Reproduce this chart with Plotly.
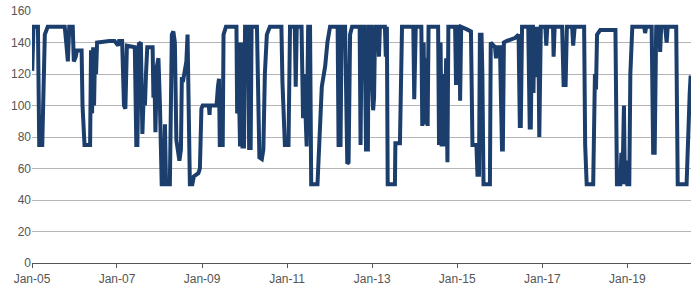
import plotly.graph_objects as go

dates = [
"2005-01-03","2005-01-14","2005-02-21","2005-03-04","2005-03-30","2005-04-08","2005-04-21","2005-05-16",
"2005-10-09","2005-10-22","2005-11-05","2005-11-17","2005-12-17","2005-12-26","2006-01-12","2006-01-21",
"2006-03-03","2006-03-11","2006-03-28","2006-05-15","2006-05-23","2006-06-01","2006-06-10","2006-06-18",
"2006-06-27","2006-07-05","2006-07-14","2006-10-29","2006-12-11",
"2007-01-11","2007-01-19","2007-02-14","2007-03-02","2007-03-14","2007-03-27","2007-06-03","2007-06-16",
"2007-06-25","2007-07-08","2007-07-25","2007-08-07","2007-08-20","2007-08-29","2007-09-07","2007-09-18",
"2007-11-03","2007-11-10","2007-11-19","2007-11-27","2007-12-10","2007-12-23","2008-01-05","2008-01-14",
"2008-01-20","2008-02-09","2008-02-17","2008-02-26","2008-03-30","2008-04-08","2008-04-16","2008-04-29",
"2008-05-12","2008-05-25","2008-06-07","2008-06-20","2008-07-03","2008-07-11","2008-07-20","2008-08-06",
"2008-08-19","2008-08-29","2008-09-10","2008-09-18","2008-10-09","2008-10-22","2008-11-30","2008-12-13",
"2008-12-26",
"2009-01-06","2009-02-28","2009-03-06","2009-03-10","2009-05-05","2009-05-17","2009-05-26","2009-06-02",
"2009-06-27","2009-07-04","2009-07-25","2009-10-23","2009-10-29","2009-11-05","2009-11-14","2009-11-23",
"2009-12-01","2009-12-14","2009-12-27","2010-01-05","2010-01-31","2010-02-09","2010-02-22","2010-03-02",
"2010-04-17","2010-04-25","2010-05-08","2010-05-29","2010-06-11","2010-06-24","2010-07-11","2010-08-06",
"2010-11-13","2010-11-22","2010-11-29","2010-12-13","2011-01-13","2011-01-26","2011-03-08","2011-03-16",
"2011-03-25",
"2011-05-05","2011-05-18","2011-05-27","2011-06-18","2011-07-01","2011-07-17","2011-07-27","2011-09-19",
"2011-09-29","2011-10-12","2011-10-26","2011-11-24","2011-12-13","2012-01-05","2012-03-10","2012-03-18",
"2012-04-04","2012-04-13","2012-05-13","2012-06-01","2012-06-12","2012-06-25","2012-07-12","2012-09-15",
"2012-09-23","2012-10-02","2012-10-27","2012-11-09","2012-11-25","2012-12-01","2012-12-22","2012-12-31",
"2013-01-09","2013-01-17","2013-01-26","2013-02-20","2013-02-28","2013-03-08","2013-04-20","2013-04-28",
"2013-05-07","2013-05-14","2013-07-15","2013-07-19","2013-08-27",
"2013-09-14","2013-12-20","2013-12-28","2014-01-10","2014-02-27","2014-03-07","2014-03-19","2014-03-27",
"2014-04-09","2014-04-22","2014-04-30","2014-07-21","2014-07-29","2014-08-11","2014-08-20","2014-09-02",
"2014-09-15","2014-09-28","2014-10-09","2014-10-17","2014-12-14","2014-12-22","2014-12-31","2015-01-22",
"2015-01-26","2015-02-04","2015-04-03","2015-04-29","2015-05-12","2015-06-15","2015-06-24","2015-07-07",
"2015-07-15","2015-07-29","2015-08-05","2015-08-15","2015-10-09","2015-10-16","2015-11-22","2015-11-30",
"2015-12-09","2016-01-03",
"2016-01-21","2016-01-28","2016-02-06","2016-03-03","2016-05-14","2016-06-11","2016-06-22","2016-06-30",
"2016-07-11","2016-09-02","2016-09-15","2016-09-24","2016-10-05","2016-10-13","2016-10-17","2016-10-24",
"2016-11-01","2016-11-10","2016-11-16","2016-11-20",
"2016-11-27","2016-12-06","2016-12-19","2017-01-27","2017-02-04","2017-02-13","2017-04-03","2017-04-08",
"2017-04-17","2017-06-20","2017-07-03","2017-07-20","2017-07-31","2017-09-14","2017-09-23","2017-10-06",
"2017-12-26","2018-01-04","2018-01-17","2018-03-14","2018-03-21","2018-03-29","2018-04-07","2018-04-16",
"2018-05-14","2018-09-21","2018-10-04","2018-11-02","2018-11-11","2018-11-20","2018-12-03","2018-12-11",
"2018-12-24","2019-01-01","2019-01-18","2019-01-27","2019-02-13","2019-05-26","2019-06-03","2019-06-12",
"2019-07-29","2019-08-11","2019-08-24","2019-09-06","2019-10-02","2019-10-10","2019-10-19","2019-11-22",
"2019-12-05","2019-12-14","2020-02-25","2020-03-09","2020-05-24","2020-06-06","2020-06-20","2020-06-28",
]

values = [
122,150,150,75,75,110,145,150,
150,140,128,150,150,128,131,135,
135,100,75,75,135,95,137,100,
137,120,140,141,141,
138,141,141,100,98,138,137,75,
75,139,140,82,110,100,120,137,
137,105,117,83,125,130,100,72,
50,50,88,50,50,100,145,147,
140,78,72,65,72,118,115,122,
128,145,90,50,50,55,57,60,
98,
100,100,94,100,100,112,117,75,
75,145,150,150,95,140,100,74,
140,74,74,150,150,73,73,150,
150,120,67,66,72,120,145,150,
150,115,98,75,75,150,150,112,
150,
150,92,120,74,150,150,50,50,
65,85,112,125,140,150,150,75,
75,150,150,63,64,145,150,150,
75,150,150,72,72,150,150,112,
97,105,150,150,131,150,150,131,
150,50,50,76,76,
150,150,104,150,150,87,140,88,
130,87,150,150,75,140,74,120,
74,130,64,150,150,113,150,150,
103,150,148,147,75,75,56,56,
145,145,120,50,50,140,137,130,
137,137,
72,72,140,141,143,145,87,87,
150,150,86,86,150,150,108,150,
118,150,125,150,
150,80,150,150,138,150,150,131,
150,150,113,113,150,150,138,150,
150,75,50,50,80,120,110,145,
148,148,50,50,70,50,100,50,
65,50,50,120,150,150,146,150,
150,70,70,150,150,134,150,150,
140,150,150,50,50,85,108,119,
]

x_tick_vals = ["2005-01-01","2007-01-01","2009-01-01","2011-01-01",
               "2013-01-01","2015-01-01","2017-01-01","2019-01-01"]
x_tick_text = ["Jan-05","Jan-07","Jan-09","Jan-11","Jan-13","Jan-15","Jan-17","Jan-19"]
y_tick_vals = [0, 20, 40, 60, 80, 100, 120, 140, 160]

fig = go.Figure()
fig.add_trace(go.Scatter(
    x=dates, y=values, mode="lines",
    line=dict(color="#1b3e6c", width=4),
    showlegend=False, hoverinfo="x+y",
))

fig.update_layout(
    width=700, height=289,
    margin=dict(l=32, r=9, t=11, b=26),
    paper_bgcolor="white", plot_bgcolor="white",
    font=dict(family="Liberation Sans, Arial, sans-serif", size=12, color="#555555"),
    showlegend=False,
)
fig.update_xaxes(
    type="date",
    range=["2005-01-01", "2020-07-01"],
    tickvals=x_tick_vals, ticktext=x_tick_text,
    showgrid=False, zeroline=False,
    showline=True, linecolor="#555555", linewidth=1,
    ticks="outside", ticklen=4, tickcolor="#555555",
    ticklabelstandoff=1,
    automargin=False,
    tickfont=dict(size=12, color="#555555"),
)
fig.update_yaxes(
    range=[0, 160], tickvals=y_tick_vals,
    showgrid=True, gridcolor="#b5b5b5", gridwidth=1,
    zeroline=False, showline=False, ticks="",
    automargin=False,
    tickfont=dict(size=12, color="#555555"),
)

fig.write_html("out.html")
